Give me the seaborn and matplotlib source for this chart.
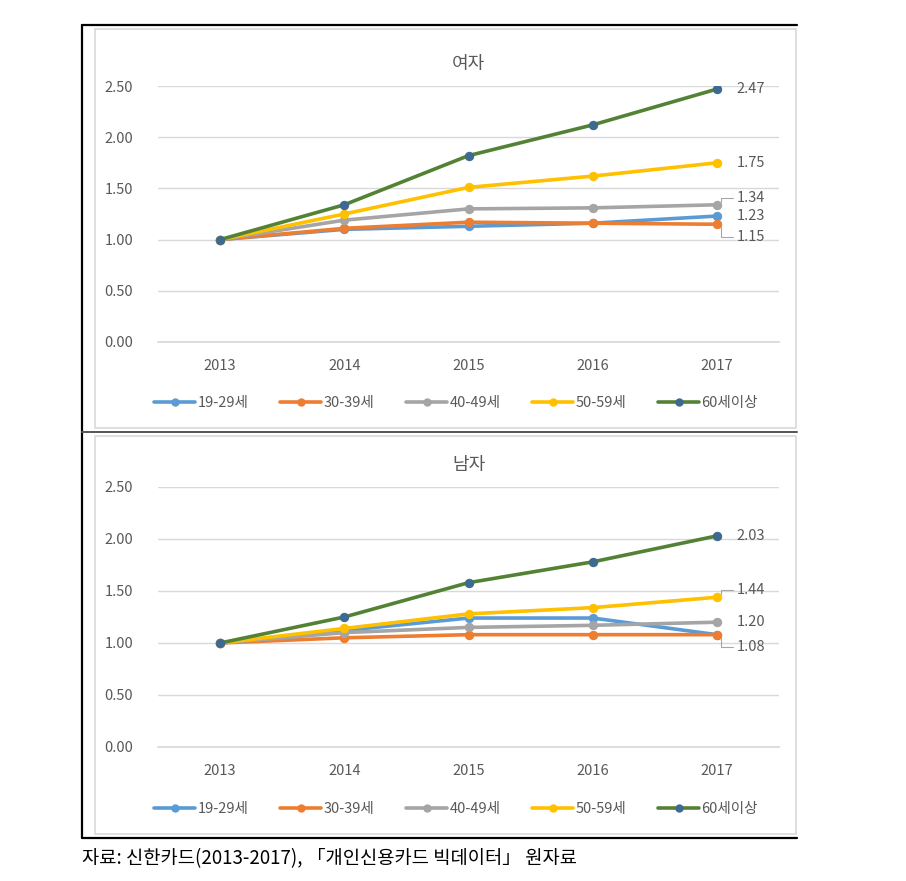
import numpy as np
import pandas as pd
import matplotlib
matplotlib.use("Agg")
import matplotlib.pyplot as plt
from matplotlib.patches import Rectangle
from matplotlib.lines import Line2D
import seaborn as sns

# ---------------------------------------------------------------
# Data (card spending index, 2013 = 1.00)
# ---------------------------------------------------------------
years = ["2013", "2014", "2015", "2016", "2017"]
groups = ["19-29세", "30-39세", "40-49세", "50-59세", "60세이상"]

female_1929 = [1.00, 1.10, 1.13, 1.16, 1.23]
female_3039 = [1.00, 1.11, 1.17, 1.16, 1.15]
female_4049 = [1.00, 1.19, 1.30, 1.31, 1.34]
female_5059 = [1.00, 1.25, 1.51, 1.62, 1.75]
female_60 = [1.00, 1.34, 1.82, 2.12, 2.47]

male_1929 = [1.00, 1.12, 1.24, 1.24, 1.08]
male_3039 = [1.00, 1.05, 1.08, 1.08, 1.08]
male_4049 = [1.00, 1.10, 1.15, 1.17, 1.20]
male_5059 = [1.00, 1.14, 1.28, 1.34, 1.44]
male_60 = [1.00, 1.25, 1.58, 1.78, 2.03]

female_labels = {"60세이상": "2.47", "50-59세": "1.75", "40-49세": "1.34",
                 "19-29세": "1.23", "30-39세": "1.15"}
male_labels = {"60세이상": "2.03", "50-59세": "1.44", "40-49세": "1.20",
               "30-39세": "1.08"}

LINE_COLORS = ["#5B9BD5", "#ED7D31", "#A5A5A5", "#FFC000", "#548235"]
MARK_COLORS = ["#5B9BD5", "#ED7D31", "#A5A5A5", "#FFC000", "#3E6A91"]
TXT = "#595959"
GRID = "#D9D9D9"
FS = 10.5

W, H = 906, 881


def long_frame(series):
    rows = []
    for g, vals in zip(groups, series):
        for i, v in enumerate(vals):
            rows.append({"x": i, "value": v, "group": g})
    return pd.DataFrame(rows)


def draw_panel(ax, series, title, labels, label_offsets):
    df = long_frame(series)
    for g, lc, mc in zip(groups, LINE_COLORS, MARK_COLORS):
        sub = df[df["group"] == g]
        sns.lineplot(data=sub, x="x", y="value", ax=ax, color=lc, lw=2.6,
                     marker="o", markersize=6, markerfacecolor=mc,
                     markeredgecolor=mc, label=g, legend=False)
    ax.set_xlim(-0.5, 4.5)
    ax.set_ylim(0, 2.5)
    ax.set_yticks(np.arange(0, 2.51, 0.5))
    ax.set_yticklabels([f"{v:.2f}" for v in np.arange(0, 2.51, 0.5)])
    ax.set_xticks(range(len(years)))
    ax.set_xticklabels(years)
    ax.set_xlabel("")
    ax.set_ylabel("")
    ax.grid(axis="y", color=GRID, lw=1)
    ax.grid(axis="x", visible=False)
    for s in ["left", "right", "top"]:
        ax.spines[s].set_visible(False)
    ax.spines["bottom"].set_color(GRID)
    ax.tick_params(length=0, colors=TXT, labelsize=FS)
    ax.tick_params(axis="y", pad=18)
    ax.tick_params(axis="x", pad=12)
    ax.set_title(title, fontsize=13, color=TXT, pad=12)

    # data labels at 2017
    for g, vals in zip(groups, series):
        if g not in labels:
            continue
        ly = label_offsets.get(g, vals[-1])
        if abs(ly - vals[-1]) > 0.03:
            ax.annotate(labels[g], xy=(4.03, vals[-1]), xytext=(4.16, ly),
                        va="center", ha="left", fontsize=FS, color=TXT,
                        arrowprops=dict(arrowstyle="-", color="#A6A6A6", lw=0.8,
                                        connectionstyle="angle,angleA=0,angleB=90,rad=0",
                                        shrinkA=0, shrinkB=2))
        else:
            ax.text(4.16, ly, labels[g], va="center", ha="left",
                    fontsize=FS, color=TXT)

    handles = [Line2D([], [], color=lc, lw=2.6, marker="o", markersize=5,
                      markerfacecolor=mc, markeredgecolor=mc)
               for lc, mc in zip(LINE_COLORS, MARK_COLORS)]
    leg = ax.legend(handles, groups, loc="upper center", bbox_to_anchor=(0.48, -0.16),
                    ncol=5, frameon=False, fontsize=FS, handlelength=2.8,
                    handletextpad=0.15, columnspacing=2.2)
    for t in leg.get_texts():
        t.set_color(TXT)


sns.set_theme(style="white")
plt.rcParams["font.family"] = ["Noto Sans CJK KR", "DejaVu Sans"]

fig = plt.figure(figsize=(W / 100, H / 100), dpi=100)

ax_top = fig.add_axes([158 / W, 1 - 342 / H, (779 - 158) / W, 256 / H])
ax_bot = fig.add_axes([158 / W, 1 - 747 / H, (779 - 158) / W, 260 / H])

draw_panel(ax_top, [female_1929, female_3039, female_4049, female_5059, female_60],
           "여자", female_labels, {"40-49세": 1.41, "30-39세": 1.03})
draw_panel(ax_bot, [male_1929, male_3039, male_4049, male_5059, male_60],
           "남자", male_labels, {"50-59세": 1.51, "30-39세": 0.96})


def px_rect(x0, y0, x1, y1, **kw):
    fig.patches.append(Rectangle((x0 / W, 1 - y1 / H), (x1 - x0) / W, (y1 - y0) / H,
                                 transform=fig.transFigure, fill=False, **kw))


def px_line(x0, y0, x1, y1, **kw):
    fig.lines.append(Line2D([x0 / W, x1 / W], [1 - y0 / H, 1 - y1 / H],
                            transform=fig.transFigure, **kw))


# inner chart borders (light gray)
px_rect(95, 29, 796, 428, edgecolor="#D9D9D9", lw=1.2)
px_rect(95, 436, 796, 834, edgecolor="#D9D9D9", lw=1.2)
# outer frame
px_line(82, 25, 797, 25, color="black", lw=1.6)
px_line(82, 25, 82, 838, color="black", lw=1.6)
px_line(82, 838, 797, 838, color="black", lw=1.6)
px_line(82, 432, 797, 432, color="#555555", lw=1.4)

fig.text(82 / W, 1 - 859 / H, "자료: 신한카드(2013-2017), 「개인신용카드 빅데이터」 원자료",
         ha="left", va="center", fontsize=13.5, color="black")

fig.savefig("out.png", dpi=100, facecolor="white")
